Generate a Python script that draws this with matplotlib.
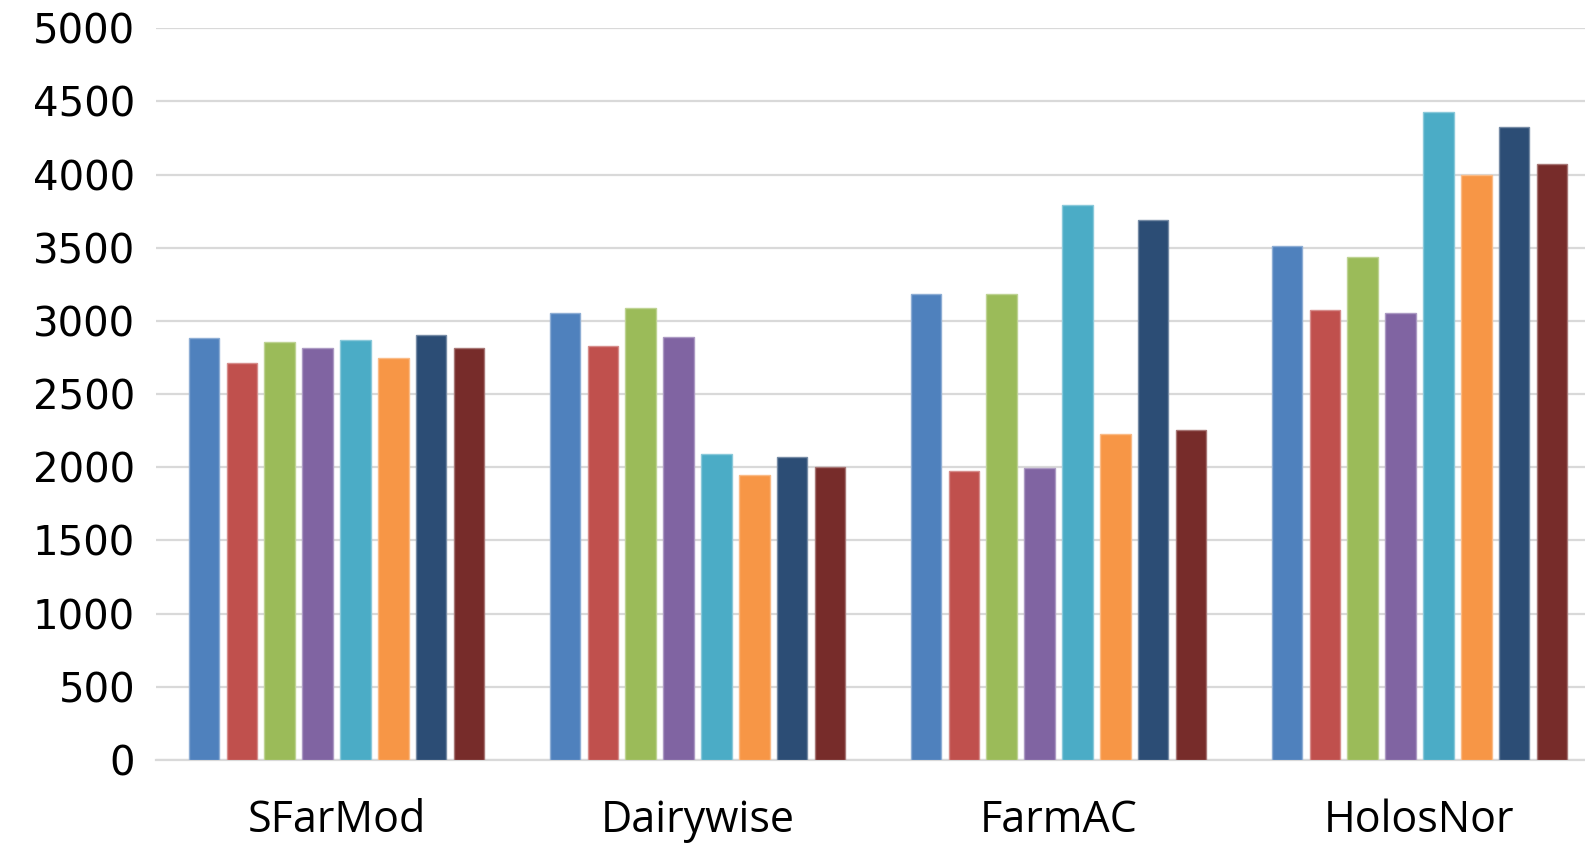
""" Bar chart of the four farm models, eight scenarios each
"""
import matplotlib.pyplot as plt
import numpy as np


models = ["SFarMod", "Dairywise", "FarmAC", "HolosNor"]

# one row per model, one column per scenario
sfarmod = [2882, 2713, 2857, 2816, 2870, 2750, 2904, 2813]
dairywise = [3057, 2832, 3091, 2888, 2089, 1948, 2073, 2003]
farmac = [3181, 1975, 3186, 1995, 3794, 2230, 3687, 2257]
holosnor = [3514, 3075, 3439, 3054, 4429, 3995, 4327, 4074]

colors = ["#4F81BD", "#C0504D", "#9BBB59", "#8064A2",
          "#4BACC6", "#F79646", "#2C4D75", "#772C2A"]
yticks = [0, 500, 1000, 1500, 2000, 2500, 3000, 3500, 4000, 4500, 5000]


def lighter(c, f=0.35):
	rgb = np.array([int(c[i:i + 2], 16) for i in (1, 3, 5)]) / 255
	return tuple(rgb + (1 - rgb) * f)


values = np.array([sfarmod, dairywise, farmac, holosnor])
n_series = values.shape[1]

fig = plt.figure(figsize=(15.85, 8.43), dpi=100)
ax = fig.add_axes([156 / 1585, 1 - 760 / 843, 1444 / 1585, (760 - 28.3) / 843])

x = np.arange(len(models))
step = 0.105
width = 0.084
for k in range(n_series):
	pos = x + (k - (n_series - 1) / 2) * step
	ax.bar(pos, values[:, k], width=width, color=colors[k],
		   edgecolor=lighter(colors[k]), linewidth=1.0, zorder=3)

ax.set_xlim(-0.5, len(models) - 0.5)
ax.set_ylim(0, 5000)
ax.set_yticks(yticks)
ax.set_yticklabels([str(t) for t in yticks], fontsize=29, family="DejaVu Sans")
ax.set_xticks(x)
ax.set_xticklabels(models, fontsize=31, family="Open Sans")
ax.tick_params(axis="both", length=0)
ax.tick_params(axis="y", pad=15)
ax.tick_params(axis="x", pad=28)

ax.grid(axis="y", color="#D9D9D9", linewidth=1.6, zorder=0)
for s in ["top", "right", "left"]:
	ax.spines[s].set_visible(False)
ax.spines["bottom"].set_color("#D9D9D9")
ax.spines["bottom"].set_linewidth(1.6)

fig.savefig("out.png", dpi=100)
